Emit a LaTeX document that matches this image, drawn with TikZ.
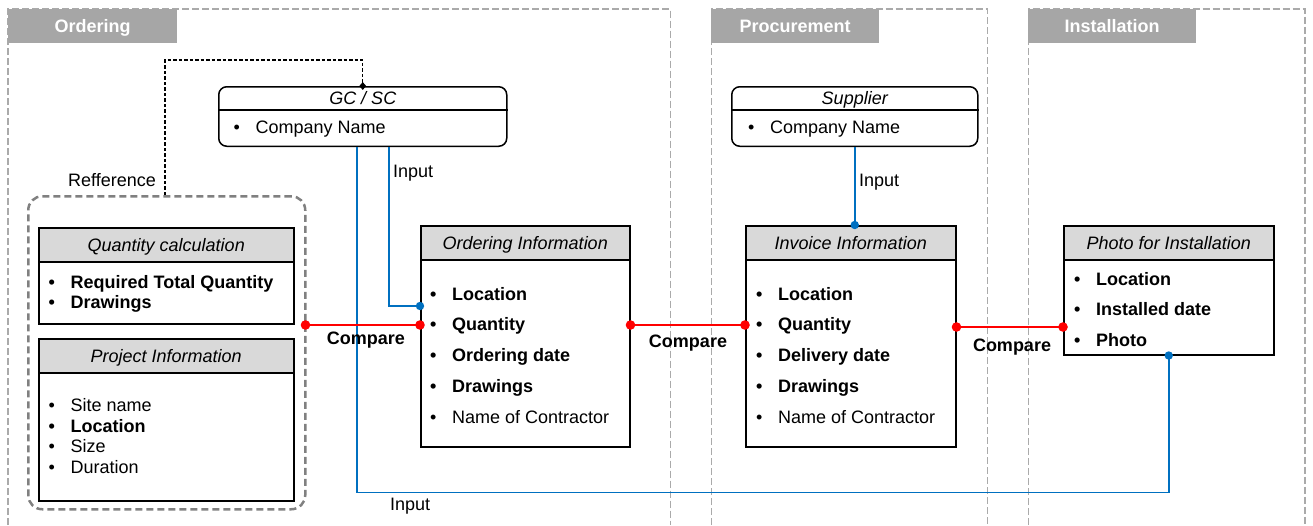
\documentclass[tikz,border=0pt]{standalone}
\usepackage{fontspec}
\setmainfont{Liberation Sans}
\usetikzlibrary{calc,shapes.geometric}
\definecolor{lanegray}{HTML}{AAAAAA}
\definecolor{hdrgray}{HTML}{D9D9D9}
\definecolor{lanehdrgray}{HTML}{A6A6A6}
\definecolor{grpgray}{HTML}{808080}
\definecolor{inblue}{HTML}{0070C0}
\definecolor{cmpred}{HTML}{FF0000}
\newcommand{\mybul}{\makebox[22pt][l]{•}}
\begin{document}
\begin{tikzpicture}[x=1pt,y=-1pt,
  every node/.style={font=\fontsize{18}{21}\selectfont, inner sep=0pt, text height=12.9pt, text depth=0pt},
  lane/.style={draw=lanegray, line width=1.8pt, dash pattern=on 7pt off 3pt},
  lanehdr/.style={fill=lanehdrgray, text=white, font=\fontsize{18}{21}\selectfont\bfseries, anchor=north west, minimum width=168, minimum height=34},
  grp/.style={draw=grpgray, line width=2.5pt, dash pattern=on 7pt off 4pt, rounded corners=14pt, anchor=north west},
  ent/.style={draw=black, fill=white, line width=1.5pt, anchor=north west},
  enthdr/.style={draw=black, fill=hdrgray, line width=1.5pt, anchor=north west, minimum height=34, font=\fontsize{18}{21}\selectfont\itshape},
  rent/.style={draw=black, fill=white, line width=1.5pt, rounded corners=8pt, anchor=north west},
  rtitle/.style={font=\fontsize{18}{21}\selectfont\itshape},
  itm/.style={anchor=west},
  bitm/.style={anchor=west, font=\fontsize{18}{21}\selectfont\bfseries},
  refline/.style={draw=black, line width=1.2pt, dash pattern=on 3.5pt off 2pt},
  cmp/.style={draw=cmpred, line width=2.7pt},
  inp/.style={draw=inblue, line width=1.5pt},
  lbl/.style={anchor=west},
  cmplbl/.style={font=\fontsize{18}{21}\selectfont\bfseries},
]
\useasboundingbox (0,0) rectangle (1313,525);

% swimlanes
\draw[lane] (8,525) -- (8,9) -- (670.5,9) -- (670.5,525);
\draw[lane] (711.5,525) -- (711.5,9) -- (987.5,9) -- (987.5,525);
\draw[lane] (1028.5,525) -- (1028.5,9) -- (1305,9) -- (1305,525);
\node[lanehdr, minimum width=169] (hord) at (8,8.5) {Ordering};
\node[lanehdr] (hpro) at (711,8.5) {Procurement};
\node[lanehdr] (hins) at (1028,8.5) {Installation};

% group
\node[grp, minimum width=277, minimum height=313] (grp) at (27,195) {};
\node (reflbl) at (112,180) {Refference};

% GC / SC
\node[rent, minimum width=288, minimum height=59.5] (gc) at (218,86) {};
\draw[line width=1.5pt] ($(gc.north west)+(0,24)$) -- ($(gc.north east)+(0,24)$);
\node[rtitle] (gct) at ($(gc.north)+(0,12.5)$) {GC / SC};
\node[itm] (gc1) at (233.5,127) {\mybul Company Name};

% Supplier
\node[rent, minimum width=246, minimum height=59.5] (sup) at (731,86) {};
\draw[line width=1.5pt] ($(sup.north west)+(0,24)$) -- ($(sup.north east)+(0,24)$);
\node[rtitle] (supt) at ($(sup.north)+(0,12.5)$) {Supplier};
\node[itm] (sup1) at (748,127) {\mybul Company Name};

% Quantity calculation
\node[ent, minimum width=255, minimum height=96] (qc) at (38,227) {};
\node[enthdr, minimum width=255] (qch) at (38,227) {Quantity calculation};
\node[bitm] (qc1) at (48.5,282) {\mybul Required Total Quantity};
\node[bitm] (qc2) at (48.5,302.5) {\mybul Drawings};

% Project Information
\node[ent, minimum width=255, minimum height=162] (pi) at (38,338) {};
\node[enthdr, minimum width=255] (pih) at (38,338) {Project Information};
\node[itm] (pi1) at (48.5,405.5) {\mybul Site name};
\node[bitm] (pi2) at (48.5,426) {\mybul Location};
\node[itm] (pi3) at (48.5,446.5) {\mybul Size};
\node[itm] (pi4) at (48.5,467) {\mybul Duration};

% Ordering Information
\node[ent, minimum width=209, minimum height=221] (oi) at (420,225) {};
\node[enthdr, minimum width=209] (oih) at (420,225) {Ordering Information};
\node[bitm] (oi1) at (430,294) {\mybul Location};
\node[bitm] (oi2) at (430,324.5) {\mybul Quantity};
\node[bitm] (oi3) at (430,355) {\mybul Ordering date};
\node[bitm] (oi4) at (430,386) {\mybul Drawings};
\node[itm] (oi5) at (430,417) {\mybul Name of Contractor};

% Invoice Information
\node[ent, minimum width=210, minimum height=221] (ii) at (745,225) {};
\node[enthdr, minimum width=210] (iih) at (745,225) {Invoice Information};
\node[bitm] (ii1) at (756,294) {\mybul Location};
\node[bitm] (ii2) at (756,324.5) {\mybul Quantity};
\node[bitm] (ii3) at (756,355) {\mybul Delivery date};
\node[bitm] (ii4) at (756,386) {\mybul Drawings};
\node[itm] (ii5) at (756,417) {\mybul Name of Contractor};

% Photo for Installation
\node[ent, minimum width=210, minimum height=129] (ph) at (1063,225) {};
\node[enthdr, minimum width=210] (phh) at (1063,225) {Photo for Installation};
\node[bitm] (ph1) at (1074,279) {\mybul Location};
\node[bitm] (ph2) at (1074,309) {\mybul Installed date};
\node[bitm] (ph3) at (1074,340) {\mybul Photo};

% reference connector
\draw[refline] ($(grp.north west)+(138,0)$) -- ++(0,-135) -| (gc.north);
\node[diamond, fill=black, minimum width=7, minimum height=8, text height=0pt] (refdia) at (gc.north) {};

% input connectors
\coordinate (d1) at ($(oi.north west)+(0,81)$);
\draw[inp] ($(gc.south west)+(171,0)$) |- (d1);
\fill[inblue] (d1) circle (4.2);
\node[lbl] (inlbl1) at (393,171) {Input};

\draw[inp] ($(gc.south west)+(139,0)$) |- ($(ph.south)+(0,137)$) -- (ph.south);
\fill[inblue] (ph.south) circle (4.2);
\node[lbl] (inlbl2) at (390,504) {Input};

\draw[inp] (sup.south) -- (sup.south |- ii.north);
\fill[inblue] (sup.south |- ii.north) circle (4.2);
\node[lbl] (inlbl3) at (859,180) {Input};

% compare connectors
\coordinate (c1a) at ($(grp.north east)+(-1,130)$);
\coordinate (c1b) at ($(oi.north west)+(0,100)$);
\draw[cmp] (c1a) -- (c1b);
\fill[cmpred] (c1a) circle (4.8);
\fill[cmpred] (c1b) circle (4.8);
\node[cmplbl] (cl1) at (366,338) {Compare};

\coordinate (c2a) at ($(oi.north east)+(0,100)$);
\coordinate (c2b) at ($(ii.north west)+(0,100)$);
\draw[cmp] (c2a) -- (c2b);
\fill[cmpred] (c2a) circle (4.8);
\fill[cmpred] (c2b) circle (4.8);
\node[cmplbl] (cl2) at (688,341) {Compare};

\coordinate (c3a) at ($(ii.north east)+(0,102)$);
\coordinate (c3b) at ($(ph.north west)+(0,102)$);
\draw[cmp] (c3a) -- (c3b);
\fill[cmpred] (c3a) circle (4.8);
\fill[cmpred] (c3b) circle (4.8);
\node[cmplbl] (cl3) at (1012,345) {Compare};
\end{tikzpicture}
\end{document}
